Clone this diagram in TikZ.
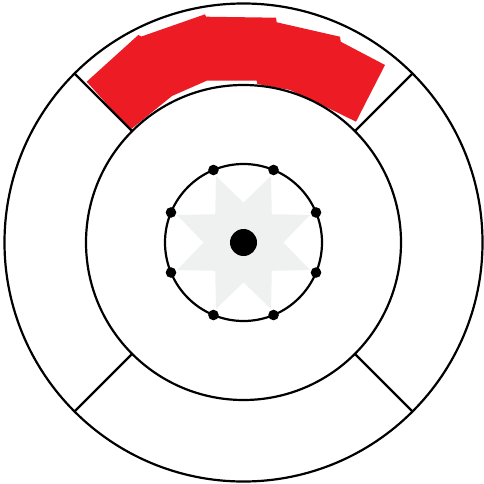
\documentclass[tikz,border=0pt]{standalone}
\usetikzlibrary{calc}
\definecolor{bandred}{HTML}{ED1C24}
\definecolor{stargray}{HTML}{EFF0F0}
\tikzset{
  ring/.style={draw=black, line width=2.2pt},
  divider/.style={draw=black, line width=2.2pt},
  band/.style={fill=bandred, draw=none},
  starfill/.style={fill=stargray, draw=none},
  pin/.style={fill=black, draw=none}
}
\begin{document}
\begin{tikzpicture}[x=1pt,y=-1pt]
\useasboundingbox (0,0) rectangle (484,484);
\coordinate (c) at (243.5,242.5);
% red band
\path[band] (86.7,81.7) -- (138.3,35) -- (141.5,36.5) -- (205,14.3) -- (206,16.7)
  -- (276,17.7) -- (276.7,22.3) -- (340,36.7) -- (340.7,41.7) -- (385,65)
  -- (356,121.7) -- (320,104) -- (290,90) -- (257.3,84) -- (256.7,80.7)
  -- (206.7,80.7) -- (172,96) -- (130,130) -- cycle;
% star
\path[starfill] ($(c)+(22.5:72)$)
  \foreach \k in {0,...,7} {
    -- ($(c)+(22.5+45*\k:72)$) -- ($(c)+(45+45*\k:40)$)
  } -- cycle;
% circles
\draw[ring] (c) circle[radius=239];
\draw[ring] (c) circle[radius=157.5];
\draw[ring] (c) circle[radius=78.5];
% dividers
\foreach \a in {45,135,225,315} {
  \coordinate (i\a) at ($(c)+(\a:157.5)$);
  \coordinate (o\a) at ($(c)+(\a:239)$);
  \draw[divider] (i\a) -- (o\a);
}
% dots
\foreach \k in {0,...,7} {
  \coordinate (d\k) at ($(c)+(22.5+45*\k:78.5)$);
  \fill[pin] (d\k) circle[radius=5.3];
}
\fill[pin] (c) circle[radius=13.5];
\end{tikzpicture}
\end{document}
